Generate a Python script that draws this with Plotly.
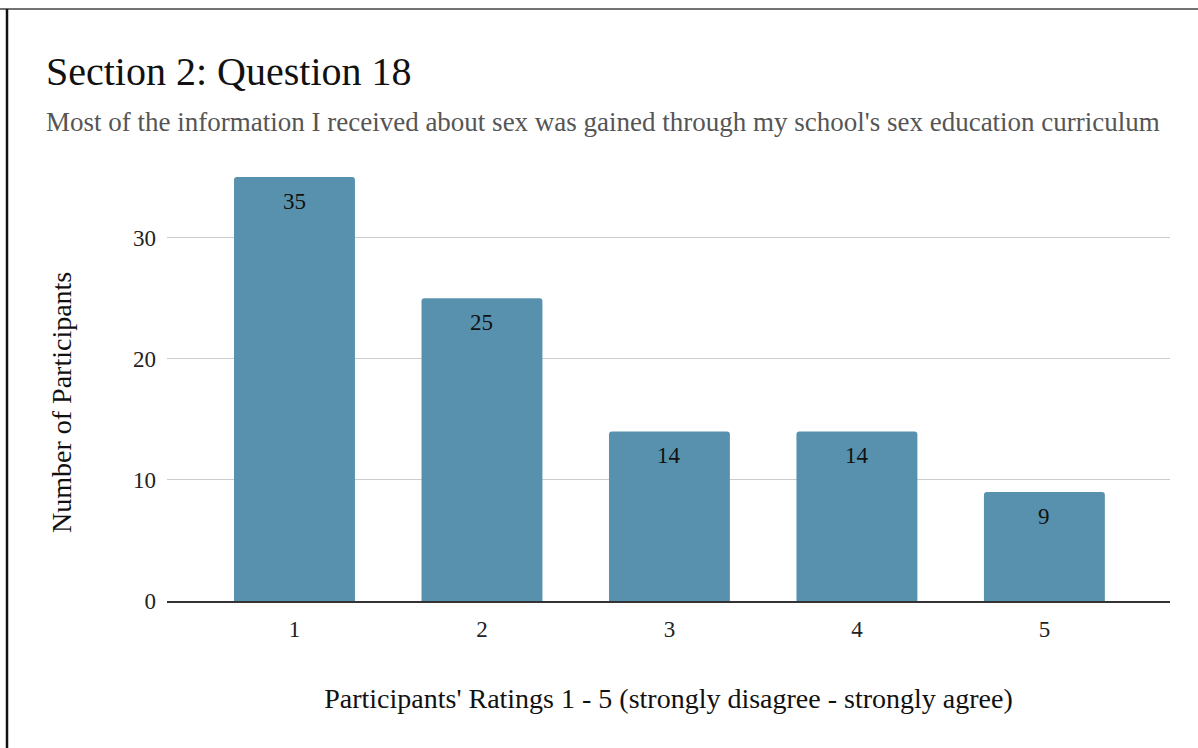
import plotly.graph_objects as go

categories = ["1", "2", "3", "4", "5"]
counts = [35, 25, 14, 14, 9]
y_ticks = [0, 10, 20, 30]

title_text = "Section 2: Question 18"
subtitle_text = "Most of the information I received about sex was gained through my school's sex education curriculum"
x_title = "Participants' Ratings 1 - 5 (strongly disagree - strongly agree)"
y_title = "Number of Participants"

FONT = "Liberation Serif, Times New Roman, serif"
W, H = 1198, 748
ML, MR, MT, MB = 167, 28, 165, 147
PW, PH = W - ML - MR, H - MT - MB

xs = [int(c) for c in categories]

fig = go.Figure(go.Bar(
    x=xs,
    y=counts,
    marker=dict(color="#5891AD", cornerradius=3, line=dict(width=0)),
    width=0.645,
    hoverinfo="x+y",
))

def px_x(p):
    return (p - ML) / PW

def px_y(p):
    return (H - MB - p) / PH

annotations = [
    dict(text=str(v), x=x, y=v, xref="x", yref="y",
         xanchor="center", yanchor="top", yshift=-10, showarrow=False,
         font=dict(size=23, color="#111111", family=FONT))
    for x, v in zip(xs, counts)
]
annotations += [
    dict(text=title_text, xref="paper", yref="paper",
         x=px_x(44), y=px_y(96), xanchor="left", yanchor="bottom",
         showarrow=False, font=dict(size=40, color="#111111", family=FONT)),
    dict(text=subtitle_text, xref="paper", yref="paper",
         x=px_x(44), y=px_y(139), xanchor="left", yanchor="bottom",
         showarrow=False, font=dict(size=27, color="#555555", family=FONT)),
    dict(text=y_title, xref="paper", yref="paper",
         x=px_x(61), y=px_y(403), xanchor="center", yanchor="middle",
         textangle=-90, showarrow=False,
         font=dict(size=28, color="#111111", family=FONT)),
]

fig.update_layout(
    width=W, height=H,
    margin=dict(l=ML, r=MR, t=MT, b=MB),
    paper_bgcolor="white", plot_bgcolor="white",
    font=dict(family=FONT, color="#222222"),
    showlegend=False,
    xaxis=dict(
        range=[0.32, 5.67],
        tickmode="array", tickvals=xs, ticktext=categories,
        tickfont=dict(size=23, color="#222222"),
        showgrid=False, zeroline=False,
        showline=True, linecolor="#333333", linewidth=1.5,
        ticks="", ticklabelstandoff=7,
        title=dict(text=x_title, font=dict(size=28, color="#111111"), standoff=47),
    ),
    yaxis=dict(
        range=[0, 36],
        tickmode="array", tickvals=y_ticks,
        tickfont=dict(size=23, color="#222222"),
        showgrid=True, gridcolor="#cccccc", gridwidth=1,
        zeroline=False, showline=False, ticks="", ticklabelstandoff=10,
    ),
    annotations=annotations,
    shapes=[
        dict(type="line", xref="paper", yref="paper",
             x0=px_x(0), x1=px_x(W), y0=px_y(9), y1=px_y(9),
             line=dict(color="#444444", width=1.5)),
        dict(type="line", xref="paper", yref="paper",
             x0=px_x(7), x1=px_x(7), y0=px_y(9), y1=px_y(H),
             line=dict(color="#111111", width=2.5)),
    ],
)

fig.write_html("out.html")
